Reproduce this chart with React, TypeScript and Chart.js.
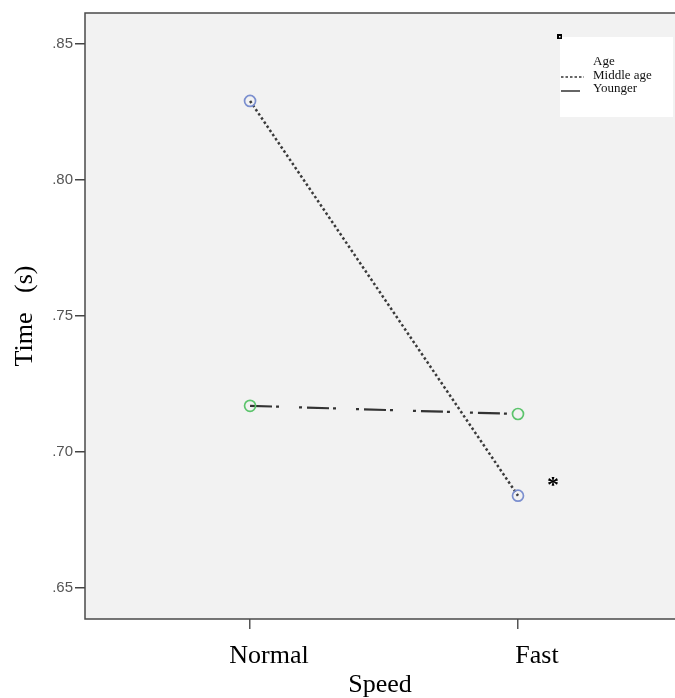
import React, { useEffect, useRef } from "react";
import { Chart, registerables } from "chart.js";

Chart.register(...registerables);

const categories = ["Normal", "Fast"];
const middleAge = [0.829, 0.684];
const younger = [0.717, 0.714];
const yTicks = [0.65, 0.7, 0.75, 0.8, 0.85];
const legendTitle = "Age";
const seriesNames = ["Middle age", "Younger"];

const overlay = {
  id: "overlay",
  beforeDraw(chart: any) {
    const { ctx, chartArea } = chart;
    ctx.save();
    ctx.fillStyle = "#f2f2f2";
    ctx.fillRect(chartArea.left, chartArea.top, chartArea.right - chartArea.left, chartArea.bottom - chartArea.top);
    ctx.restore();
  },
  afterDraw(chart: any) {
    const { ctx, chartArea } = chart;
    ctx.save();
    ctx.strokeStyle = "#4a4a4a";
    ctx.lineWidth = 1.5;
    ctx.beginPath();
    ctx.moveTo(chartArea.right + 5, chartArea.top);
    ctx.lineTo(chartArea.left, chartArea.top);
    ctx.lineTo(chartArea.left, chartArea.bottom);
    ctx.lineTo(chartArea.right + 5, chartArea.bottom);
    ctx.stroke();
    // legend
    ctx.fillStyle = "#ffffff";
    ctx.fillRect(560, 37, 113, 80);
    ctx.fillStyle = "#000";
    ctx.fillRect(557, 34, 5, 5);
    ctx.fillStyle = "#fff";
    ctx.fillRect(559, 36, 1.5, 1.5);
    ctx.fillStyle = "#111";
    ctx.font = "13px 'Liberation Serif'";
    ctx.textBaseline = "middle";
    ctx.fillText(legendTitle, 593, 62);
    ctx.fillText(seriesNames[0], 593, 76);
    ctx.fillText(seriesNames[1], 593, 89);
    ctx.strokeStyle = "#666";
    ctx.lineWidth = 2;
    ctx.setLineDash([2.5, 2]);
    ctx.beginPath();
    ctx.moveTo(561, 77);
    ctx.lineTo(584, 77);
    ctx.stroke();
    ctx.setLineDash([]);
    ctx.beginPath();
    ctx.moveTo(561, 91);
    ctx.lineTo(580, 91);
    ctx.stroke();
    // asterisk
    ctx.fillStyle = "#000";
    ctx.font = "bold 24px 'Liberation Serif'";
    ctx.textAlign = "center";
    ctx.fillText("*", 553, 486);
    ctx.restore();
  },
};

export default function App() {
  const ref = useRef<HTMLCanvasElement | null>(null);
  useEffect(() => {
    document.body.style.margin = "0";
    const chart = new Chart(ref.current as HTMLCanvasElement, {
      type: "line",
      data: {
        datasets: [
          {
            label: seriesNames[0],
            data: middleAge.map((v, i) => ({ x: i, y: v })),
            borderColor: "#3a3a3a",
            borderWidth: 2.5,
            borderDash: [2.5, 2.5],
            pointRadius: 5.5,
            pointBorderColor: "#7b8fcf",
            pointBackgroundColor: "rgba(0,0,0,0)",
            pointBorderWidth: 1.7,
          },
          {
            label: seriesNames[1],
            data: younger.map((v, i) => ({ x: i, y: v })),
            borderColor: "#333",
            borderWidth: 2.2,
            borderDash: [22, 4, 3, 20, 3, 5],
            pointRadius: 5.5,
            pointBorderColor: "#5cc46c",
            pointBackgroundColor: "rgba(0,0,0,0)",
            pointBorderWidth: 1.7,
          },
        ],
      },
      options: {
        animation: false,
        responsive: false,
        layout: { autoPadding: false, padding: { top: 13, right: 0, left: 0, bottom: 0 } },
        plugins: { legend: { display: false }, tooltip: { enabled: false } },
        scales: {
          x: {
            type: "linear",
            min: -0.616,
            max: 1.586,
            afterBuildTicks: (s: any) => {
              s.ticks = categories.map((_, i) => ({ value: i }));
            },
            afterFit: (s: any) => {
              s.height = 79;
              s.paddingLeft = 0;
              s.paddingRight = 0;
            },
            border: { display: false },
            grid: { drawOnChartArea: false, tickLength: 10, color: "#555", lineWidth: 1.5 },
            ticks: {
              callback: (v: any) => categories[v] ?? "",
              color: "#000",
              font: { family: "'Liberation Serif'", size: 26 },
              padding: 12,
              labelOffset: 19,
              maxRotation: 0,
              autoSkip: false,
            },
            title: {
              display: true,
              text: "Speed",
              color: "#000",
              font: { family: "'Liberation Serif'", size: 26 },
              padding: { top: 0, bottom: -3 },
            },
          },
          y: {
            min: 0.6387,
            max: 0.8613,
            afterBuildTicks: (s: any) => {
              s.ticks = yTicks.map((v) => ({ value: v }));
            },
            afterFit: (s: any) => {
              s.width = 85;
            },
            border: { display: false },
            grid: { drawOnChartArea: false, tickLength: 10, color: "#444", lineWidth: 1.5 },
            ticks: {
              callback: (v: any) => v.toFixed(2).replace(/^0/, ""),
              color: "#555",
              font: { family: "'Liberation Sans'", size: 15 },
              padding: 2,
            },
            title: {
              display: true,
              text: "Time   (s)",
              color: "#000",
              font: { family: "'Liberation Serif'", size: 26 },
              padding: { top: 10, bottom: 0 },
            },
          },
        },
      },
      plugins: [overlay],
    } as any);
    return () => chart.destroy();
  }, []);
  return (
    <div style={{ position: "relative", width: 675, height: 698 }}>
      <canvas ref={ref} width={675} height={698} style={{ display: "block" }} />
    </div>
  );
}
